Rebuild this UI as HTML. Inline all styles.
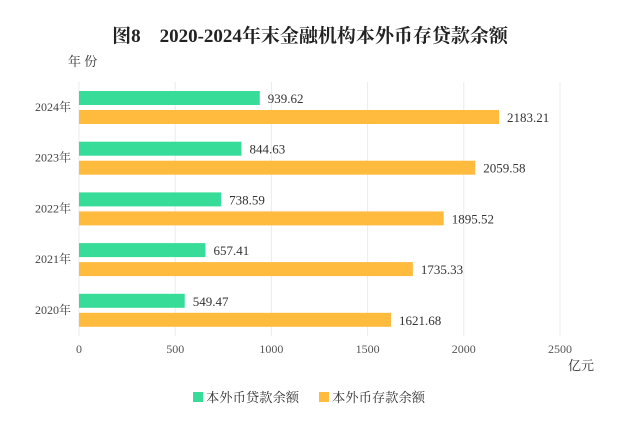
<!DOCTYPE html>
<html><head><meta charset="utf-8"><style>
body{margin:0;background:#fff;}
svg{display:block;font-family:"Liberation Serif","Noto Serif CJK SC",serif;}
</style></head><body>
<svg id="c" width="617" height="435">
<text x="310" y="42" text-anchor="middle" font-size="19" font-weight="bold" fill="#222">图8　2020-2024年末金融机构本外币存贷款余额</text>
<text x="68" y="66" font-size="13" fill="#333">年 份</text>
<text x="594" y="370" text-anchor="end" font-size="13" fill="#333">亿元</text>
<g id="grid"></g><g id="bars"></g>
<rect x="193" y="392" width="10" height="10" fill="#37dc98"/>
<text x="206" y="402" font-size="13.3" fill="#333">本外币贷款余额</text>
<rect x="319" y="392" width="10" height="10" fill="#ffbb3e"/>
<text x="332" y="402" font-size="13.3" fill="#333">本外币存款余额</text>
</svg>
<script>
const categories=["2024年","2023年","2022年","2021年","2020年"];
const loans=[939.62,844.63,738.59,657.41,549.47];
const deposits=[2183.21,2059.58,1895.52,1735.33,1621.68];
const ticks=[0,500,1000,1500,2000,2500];
const NS="http://www.w3.org/2000/svg";
const x=v=>79+v*(560-79)/2500;
const y=i=>91+i*50.7;
function mk(t,a,p){const e=document.createElementNS(NS,t);for(const k in a)e.setAttribute(k,a[k]);p.appendChild(e);return e;}
const g=document.getElementById('grid'),b=document.getElementById('bars');
ticks.forEach(t=>{
 const l=mk('line',{x1:x(t),x2:x(t),y1:82,y2:336,stroke:'#ebebeb','stroke-width':1},g);
 
 
 const tx=mk('text',{x:x(t),y:353,'text-anchor':'middle','font-size':12,fill:'#555'},g);
 tx.textContent=t;
 
 
});
categories.forEach((c,i)=>{
 const yl=mk('text',{x:71,y:y(i)+20,'text-anchor':'end','font-size':12,fill:'#444'},b);
 yl.textContent=c;
 
 
 const r1=mk('rect',{x:x(0),y:y(i),width:x(loans[i])-x(0),height:14,fill:'#37dc98'},b);
 
 
 const t1=mk('text',{x:x(loans[i])+8,y:y(i)+12,'font-size':13,fill:'#333'},b);
 t1.textContent=loans[i].toFixed(2);
 
 
 const r2=mk('rect',{x:x(0),y:y(i)+19,width:x(deposits[i])-x(0),height:14,fill:'#ffbb3e'},b);
 
 
 const t2=mk('text',{x:x(deposits[i])+8,y:y(i)+31,'font-size':13,fill:'#333'},b);
 t2.textContent=deposits[i].toFixed(2);
 
 
});
</script>
</body></html>
